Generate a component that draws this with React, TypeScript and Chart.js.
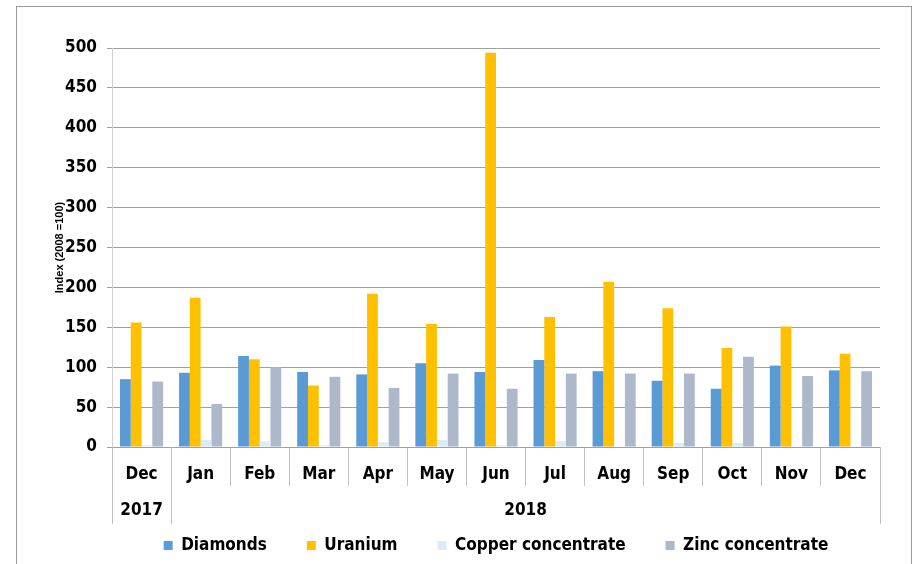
import React, { useEffect, useRef } from "react";
import { Chart, registerables } from "chart.js";

Chart.register(...registerables);

const months = ["Dec", "Jan", "Feb", "Mar", "Apr", "May", "Jun", "Jul", "Aug", "Sep", "Oct", "Nov", "Dec"];
const years = [
  { label: "2017", from: 0, to: 0 },
  { label: "2018", from: 1, to: 12 },
];
const diamonds = [85, 93, 114, 94, 91, 105, 94, 109, 95, 83, 73, 102, 96];
const uranium = [156, 187, 110, 77, 192, 154, 494, 163, 207, 174, 124, 151, 117];
const copper = [2, 9, 7, 2, 6, 9, 2, 7, 1, 5, 5, 1, 1];
const zinc = [82, 54, 100, 88, 74, 92, 73, 92, 92, 92, 113, 89, 95];

const NARROW = "'DejaVu Sans Condensed', 'Liberation Sans Narrow', sans-serif";

const framePlugin = {
  id: "frame",
  beforeDraw(chart: any) {
    const { ctx } = chart;
    ctx.save();
    ctx.strokeStyle = "#9a9a9a";
    ctx.lineWidth = 1;
    ctx.strokeRect(16.5, 6.5, 895, 600);
    ctx.restore();
  },
  afterDraw(chart: any) {
    const { ctx } = chart;
    const x = chart.scales.x;
    const area = chart.chartArea;
    const half = (x.getPixelForValue(1) - x.getPixelForValue(0)) / 2;
    ctx.save();
    ctx.strokeStyle = "#c0c0c0";
    ctx.lineWidth = 1;
    ctx.fillStyle = "#000";
    ctx.font = "bold 17px " + NARROW;
    ctx.textAlign = "center";
    ctx.textBaseline = "middle";
    const bounds: number[] = [];
    years.forEach((y) => {
      const l = x.getPixelForValue(y.from) - half;
      const r = x.getPixelForValue(y.to) + half;
      bounds.push(l, r);
      ctx.fillText(y.label, (l + r) / 2, area.bottom + 64);
    });
    Array.from(new Set(bounds.map((b) => Math.round(b)))).forEach((b) => {
      ctx.beginPath();
      ctx.moveTo(b + 0.5, area.bottom);
      ctx.lineTo(b + 0.5, area.bottom + 77);
      ctx.stroke();
    });
    ctx.restore();
  },
};

export default function App() {
  const ref = useRef<HTMLCanvasElement | null>(null);
  useEffect(() => {
    if (!ref.current) return;
    const chart = new Chart(ref.current, {
      type: "bar",
      data: {
        labels: months,
        datasets: [
          { label: "Diamonds", data: diamonds, backgroundColor: "#5B9BD5" },
          { label: "Uranium", data: uranium, backgroundColor: "#FFC000" },
          { label: "Copper concentrate", data: copper, backgroundColor: "#DDEBF7" },
          { label: "Zinc concentrate", data: zinc, backgroundColor: "#ADB9CA" },
        ],
      },
      options: {
        animation: false,
        responsive: false,
        maintainAspectRatio: false,
        layout: { padding: { left: 16, right: 37, top: 48, bottom: 0 } },
        datasets: { bar: { categoryPercentage: 0.73, barPercentage: 1.0 } },
        plugins: {
          legend: {
            position: "bottom",
            fullSize: false,
            labels: {
              boxWidth: 9,
              boxHeight: 9,
              padding: 40,
              color: "#000",
              font: { family: NARROW, size: 17, weight: "bold" },
            },
          },
          tooltip: { enabled: false },
        },
        scales: {
          x: {
            grid: {
              offset: true,
              drawOnChartArea: false,
              drawTicks: true,
              tickLength: 39,
              color: "#c0c0c0",
            },
            border: { color: "#a0a0a0" },
            ticks: {
              color: "#000",
              padding: -22,
              maxRotation: 0,
              autoSkip: false,
              font: { family: NARROW, size: 17, weight: "bold" },
            },
            afterFit(scale: any) {
              scale.height = 50;
            },
          },
          y: {
            min: 0,
            max: 500,
            ticks: {
              stepSize: 50,
              color: "#000",
              padding: 10,
              font: { family: NARROW, size: 17, weight: "bold" },
            },
            grid: { color: "#a0a0a0", tickLength: 5 },
            border: { color: "#d0d0d0" },
            title: {
              display: true,
              text: "Index (2008 =100)",
              color: "#000",
              padding: { top: 37, bottom: 0 },
              font: { family: "'Liberation Sans', Arial, sans-serif", size: 11, weight: "bold" },
            },
            afterFit(scale: any) {
              scale.width = 96;
            },
          },
        },
      },
      plugins: [framePlugin],
    });
    return () => chart.destroy();
  }, []);
  return (
    <div style={{ position: "fixed", left: 0, top: 0, width: 917, height: 564, background: "#fff" }}>
      <canvas ref={ref} width={917} height={564} style={{ display: "block" }} />
    </div>
  );
}
